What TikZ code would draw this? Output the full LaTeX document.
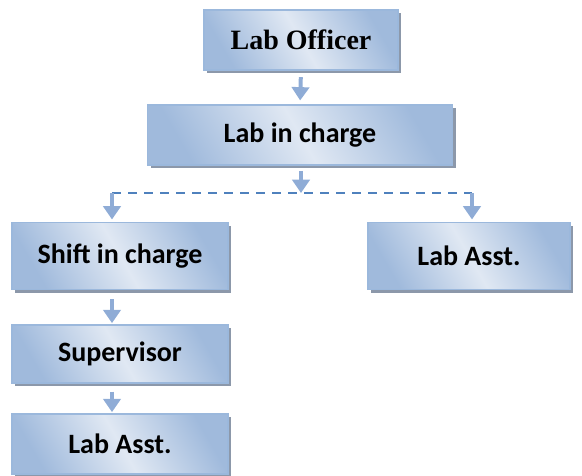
\documentclass[tikz,border=0pt]{standalone}
\usepackage{fontspec}
\setmainfont{Carlito}
\newfontfamily\headfont{Liberation Serif}
\usetikzlibrary{shadows,arrows.meta}
\definecolor{boxdark}{RGB}{160,186,220}
\definecolor{boxlight}{RGB}{224,232,243}
\definecolor{boxline}{RGB}{155,184,220}
\definecolor{arrowblue}{RGB}{143,172,214}
\definecolor{dashblue}{RGB}{79,129,189}
\definecolor{shadowgrey}{RGB}{140,152,170}
\begin{document}
\begin{tikzpicture}[x=0.75pt,y=0.75pt,yscale=-1,xscale=1,
  post/.style={draw=boxline, line width=0.8pt, left color=boxdark, right color=boxdark,
    middle color=boxlight, shading angle=-60,
    drop shadow={shadow xshift=2.5pt, shadow yshift=-2.5pt, fill=shadowgrey, opacity=1},
    font=\bfseries\fontsize{21}{24}\selectfont, inner sep=0pt},
  link/.style={draw=arrowblue, line width=3pt, -{Triangle[width=13pt,length=10pt]}},
  bus/.style={draw=dashblue, line width=1.6pt, dash pattern=on 7pt off 5pt}]
\useasboundingbox (0,0) rectangle (582,475);
% Boxes
\node [post, minimum width=145.5pt, minimum height=45pt, font=\headfont\bfseries\fontsize{21}{24}\selectfont] (officer) at (301,40) {Lab Officer};
\node [post, minimum width=229pt, minimum height=45pt] (incharge) at (300,135) {Lab in charge};
\node [post, minimum width=162pt, minimum height=50pt] (shift) at (120,256) {Shift in charge};
\node [post, minimum width=151.5pt, minimum height=50pt] (asstR) at (469,256) {Lab Asst.};
\node [post, minimum width=162pt, minimum height=43.5pt] (super) at (120,354) {Supervisor};
\node [post, minimum width=162pt, minimum height=45pt] (asstL) at (120,444) {Lab Asst.};
% Bus
\coordinate (busL) at (112,193);
\coordinate (busM) at (301,193);
\coordinate (busR) at (472,193);
\draw [bus] (busL) -- (busR);
% Arrows
\draw [link, shorten <=5pt, shorten >=3pt] (officer.south) -- (incharge.north);
\draw [link, shorten <=4pt] (busM |- incharge.south) -- (busM);
\draw [link, shorten >=2pt] (busL) -- (busL |- shift.north);
\draw [link, shorten >=2pt] (busR) -- (busR |- asstR.north);
\draw [link, shorten <=7pt, shorten >=1pt] (busL |- shift.south) -- (busL |- super.north);
\draw [link, shorten <=6pt, shorten >=1pt] (busL |- super.south) -- (busL |- asstL.north);
\end{tikzpicture}
\end{document}
